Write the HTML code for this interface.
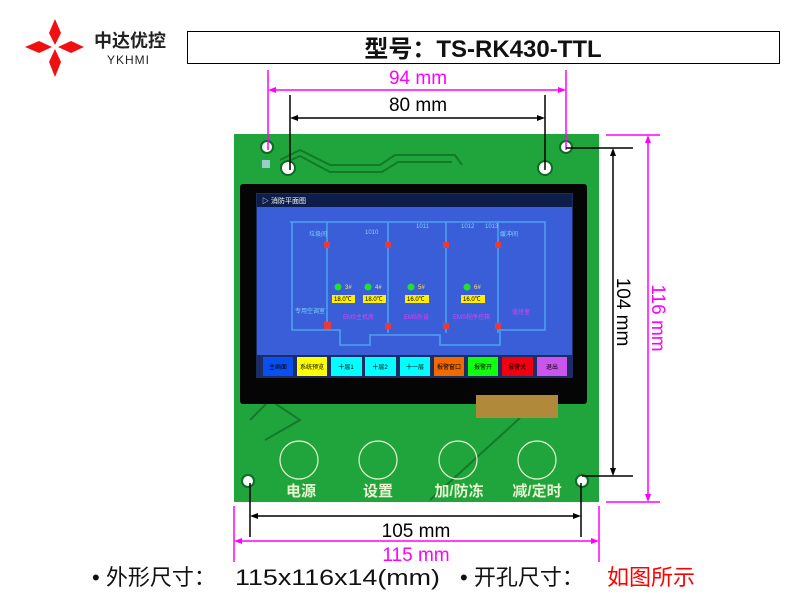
<!DOCTYPE html>
<html><head><meta charset="utf-8"><style>
html,body{margin:0;padding:0;background:#fff;width:800px;height:600px;overflow:hidden}
svg{display:block}
text{font-family:"Liberation Sans","Noto Sans CJK SC",sans-serif}
</style></head><body>
<svg width="800" height="600" viewBox="0 0 800 600" xmlns="http://www.w3.org/2000/svg">
<!-- logo -->
<g fill="#f01010">
<polygon points="55,19 61,33 55,45 49,33"/>
<polygon points="55,49 61,62 55,77 49,62"/>
<polygon points="25,47 39,41 52,47 39,53"/>
<polygon points="58,47 71,41 84,47 71,53"/>
</g>
<text x="94" y="47" font-size="18" font-weight="bold" fill="#222">中达优控</text>
<text x="107" y="64" font-size="12" fill="#222" letter-spacing="1">YKHMI</text>
<rect x="187.5" y="31.5" width="592" height="32" fill="#fff" stroke="#000" stroke-width="1"/>
<text x="483" y="57" font-size="24" font-weight="bold" text-anchor="middle" fill="#111">型号：TS-RK430-TTL</text>

<!-- board -->
<rect x="234" y="134" width="365" height="368" fill="#1fa53c"/>
<g fill="none" stroke="#137a2a" stroke-width="2">
<path d="M280,160 L300,150 L330,165 L380,165 L395,155 L455,155 L462,165"/>
<path d="M280,165 L300,156 L330,172 L382,172 L398,162 L452,162"/>
<path d="M520,418 L430,500"/><path d="M250,420 L270,400 L300,420 L265,440"/>
</g>
<rect x="262" y="160" width="8" height="8" fill="#9cc"/>
<!-- holes -->
<g fill="#fff" stroke="#0d6b25" stroke-width="2">
<circle cx="267" cy="147" r="6"/><circle cx="566" cy="147" r="6"/>
<circle cx="288" cy="168" r="7"/><circle cx="545" cy="168" r="7"/>
<circle cx="248" cy="481" r="6"/><circle cx="582" cy="481" r="6"/>
</g>
<!-- bezel -->
<rect x="240" y="184" width="347" height="220" rx="3" fill="#050505"/>
<rect x="476" y="395" width="82" height="23" fill="#b08a3a"/>
<!-- display -->
<rect x="256" y="193" width="317" height="185" fill="#1c2d66"/>
<rect x="257" y="194" width="315" height="13" fill="#0e1e4a"/>
<text x="262" y="203" font-size="7" fill="#fff">▷ 消防平面图</text>
<rect x="257" y="207" width="315" height="148" fill="#3a5ed8"/>
<g fill="none" stroke="#4ba3f0" stroke-width="1.5">
<path d="M290,222 L545,222 L545,330 L500,330 L500,345 L440,345 L440,335 L370,335 L370,345 L340,345 L340,330 L292,330 L292,222"/>
<path d="M327,222 L327,323 M388,222 L388,333 M446,222 L446,333 M498,222 L498,333"/>
</g>
<g fill="#e83a3a">
<rect x="324" y="242" width="6" height="6"/><rect x="385" y="242" width="6" height="6"/><rect x="443" y="242" width="6" height="6"/><rect x="495" y="242" width="6" height="6"/>
<rect x="324" y="322" width="7" height="7"/><rect x="385" y="323" width="6" height="6"/><rect x="443" y="323" width="6" height="6"/><rect x="495" y="323" width="6" height="6"/>
</g>
<g font-size="6" fill="#7fd0ff">
<text x="309" y="236">垃圾间</text><text x="365" y="234">1010</text><text x="416" y="228">1011</text><text x="461" y="228">1012</text><text x="485" y="228">1013</text><text x="500" y="236">缓冲间</text><text x="295" y="313">专用空调室</text>
</g>
<g font-size="6" fill="#e040f0">
<text x="343" y="319">EMS主机房</text><text x="404" y="319">EMS外设</text><text x="453" y="319">EMS程序控箱</text><text x="512" y="314">值班室</text>
</g>
<g fill="#22e030">
<circle cx="338" cy="287" r="3.5"/><circle cx="368" cy="287" r="3.5"/><circle cx="411" cy="287" r="3.5"/><circle cx="467" cy="287" r="3.5"/>
</g>
<g font-size="6" fill="#ffe060"><text x="345" y="289">3#</text><text x="375" y="289">4#</text><text x="418" y="289">5#</text><text x="474" y="289">6#</text></g>
<g fill="#ffee00"><rect x="332" y="295" width="23" height="8"/><rect x="363" y="295" width="23" height="8"/><rect x="405" y="295" width="24" height="8"/><rect x="461" y="295" width="24" height="8"/></g>
<g font-size="6" fill="#000"><text x="334" y="301">18.0℃</text><text x="365" y="301">18.0℃</text><text x="407" y="301">16.0℃</text><text x="463" y="301">16.0℃</text></g>
<!-- buttons -->
<g font-size="6" fill="#000" text-anchor="middle">
<rect x="263" y="357" width="30" height="19" fill="#0a4ff0"/><text x="278" y="369">主画面</text>
<rect x="297" y="357" width="30" height="19" fill="#ffff00"/><text x="312" y="369">系统预览</text>
<rect x="331" y="357" width="31" height="19" fill="#00ffff"/><text x="346" y="369">十层1</text>
<rect x="365" y="357" width="31" height="19" fill="#00ffff"/><text x="380" y="369">十层2</text>
<rect x="400" y="357" width="30" height="19" fill="#00ffff"/><text x="415" y="369">十一层</text>
<rect x="434" y="357" width="30" height="19" fill="#f06a00"/><text x="449" y="369">报警窗口</text>
<rect x="468" y="357" width="30" height="19" fill="#10ff10"/><text x="483" y="369">报警开</text>
<rect x="502" y="357" width="31" height="19" fill="#f00010"/><text x="517" y="369">报警关</text>
<rect x="537" y="357" width="30" height="19" fill="#cc55ee"/><text x="552" y="369">退出</text>
</g>
<!-- touch keys -->
<g fill="none" stroke="#e8f5d0" stroke-width="1.2">
<circle cx="299" cy="460" r="19"/><circle cx="378" cy="460" r="19"/><circle cx="458" cy="460" r="19"/><circle cx="537" cy="460" r="19"/>
</g>
<g font-size="15" font-weight="bold" fill="#e8f5d0" text-anchor="middle">
<text x="301" y="496">电源</text><text x="378" y="496">设置</text><text x="459" y="496">加/防冻</text><text x="537" y="496">减/定时</text>
</g>
<!-- dimensions -->
<g stroke="#ff00ff" stroke-width="1.5" fill="none">
<path d="M268,70 V150 M566,70 V150"/><path d="M272,90 H562"/>
<path d="M606,135 H660 M606,502 H660"/><path d="M648,139 V498"/>
<path d="M234,506 V562 M599,506 V562"/><path d="M238,541 H595"/>
</g>
<g fill="#ff00ff">
<polygon points="268,90 276,87 276,93"/><polygon points="566,90 558,87 558,93"/>
<polygon points="648,135 645,143 651,143"/><polygon points="648,502 645,494 651,494"/>
<polygon points="234,541 242,538 242,544"/><polygon points="599,541 591,538 591,544"/>
</g>
<g stroke="#000" stroke-width="1.5" fill="none">
<path d="M290,95 V170 M545,95 V170"/><path d="M293,118 H542"/>
<path d="M566,148 H633 M582,476 H633"/><path d="M613,151 V473"/>
<path d="M250,483 V537 M581,483 V537"/><path d="M253,516 H578"/>
</g>
<g fill="#000">
<polygon points="290,118 298,115 298,121"/><polygon points="545,118 537,115 537,121"/>
<polygon points="613,148 610,156 616,156"/><polygon points="613,476 610,468 616,468"/>
<polygon points="250,516 258,513 258,519"/><polygon points="581,516 573,513 573,519"/>
</g>
<g font-size="19" text-anchor="middle">
<text x="418" y="84" fill="#ff00ff">94 mm</text>
<text x="418" y="111" fill="#000">80 mm</text>
<text x="416" y="537" fill="#000">105 mm</text>
<text x="416" y="561" fill="#ff00ff">115 mm</text>
<text transform="translate(617,312) rotate(90)" fill="#000">104 mm</text>
<text transform="translate(652,318) rotate(90)" fill="#ff00ff">116 mm</text>
</g>
<g font-size="22" fill="#111">
<text x="92" y="585">• 外形尺寸：</text>
<text x="235" y="585" textLength="205" lengthAdjust="spacingAndGlyphs">115x116x14(mm)</text>
<text x="460" y="585">• 开孔尺寸：</text>
<text x="607" y="585" fill="#ff0000">如图所示</text>
</g>
</svg>
</body></html>
